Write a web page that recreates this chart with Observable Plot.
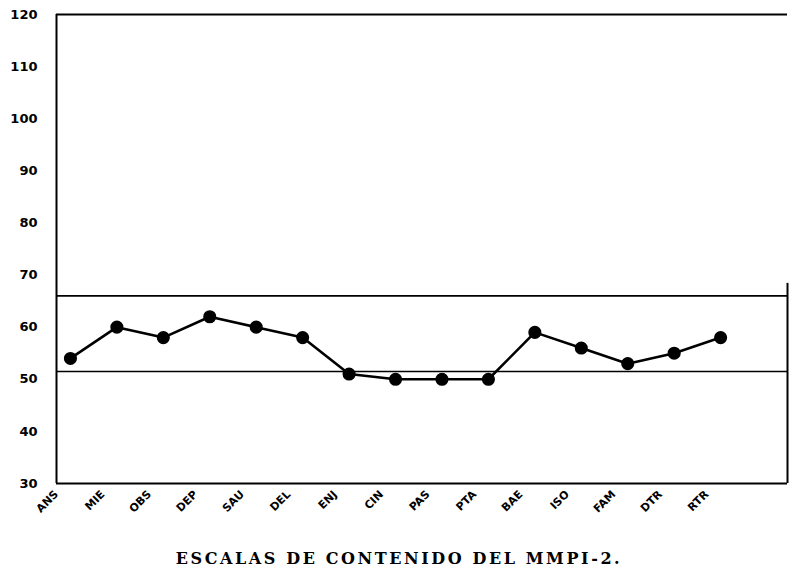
<!DOCTYPE html>
<html>
<head>
<meta charset="utf-8">
<script src="https://cdn.jsdelivr.net/npm/d3@7"></script>
<script src="https://cdn.jsdelivr.net/npm/@observablehq/plot@0.6"></script>
<style>
  body { margin: 0; background: #fff; }
  #chart { width: 790px; height: 525px; }
  #title { font-family: "DejaVu Serif", "Liberation Serif", serif; font-weight: bold; font-size: 16px; letter-spacing: 2.6px; text-align: center; margin-top: 24px; padding-left: 4px; color: #000; width: 790px; }
</style>
</head>
<body>
<div id="chart"></div>
<div id="title">ESCALAS DE CONTENIDO DEL MMPI-2.</div>
<script>
const scales = ["ANS","MIE","OBS","DEP","SAU","DEL","ENJ","CIN","PAS","PTA","BAE","ISO","FAM","DTR","RTR"];
const tScores = [54, 60, 58, 62, 60, 58, 51, 50, 50, 50, 59, 56, 53, 55, 58];
const yTicks = [30, 40, 50, 60, 70, 80, 90, 100, 110, 120];
const refLines = [66, 51.5];
const labelAngle = -45;

const data = scales.map((s, i) => ({i, s, t: tScores[i]}));

const chart = Plot.plot({
  width: 790,
  height: 525,
  marginTop: 14,
  marginBottom: 42,
  marginLeft: 56,
  marginRight: 3,
  style: {fontFamily: "'DejaVu Sans', sans-serif", color: "#000", background: "#fff"},
  x: {type: "linear", domain: [-0.3, 15.44], axis: null},
  y: {domain: [30, 120], ticks: yTicks, axis: null},
  marks: [
    Plot.text(yTicks, {x: -0.3, y: d => d, text: d => String(d), textAnchor: "end", dx: -19, fontSize: 13, fontWeight: "bold", fill: "#000"}),
    Plot.text(data, {x: "i", y: 30, text: "s", rotate: labelAngle, textAnchor: "end", dx: -14, dy: 9, fontSize: 11, fontWeight: "bold", fill: "#000"}),
    Plot.ruleY([30, 120], {stroke: "#000", strokeWidth: 2}),
    Plot.ruleY(refLines, {stroke: "#000", strokeWidth: 1.6}),
    Plot.ruleX([-0.3], {stroke: "#000", strokeWidth: 2}),
    Plot.ruleX([15.44], {y1: 68.4, y2: 30, stroke: "#000", strokeWidth: 2}),
    Plot.line(data, {x: "i", y: "t", stroke: "#000", strokeWidth: 2.6}),
    Plot.dot(data, {x: "i", y: "t", r: 5.8, fill: "#000", stroke: "#000"})
  ]
});
document.getElementById("chart").appendChild(chart);
</script>
</body>
</html>
